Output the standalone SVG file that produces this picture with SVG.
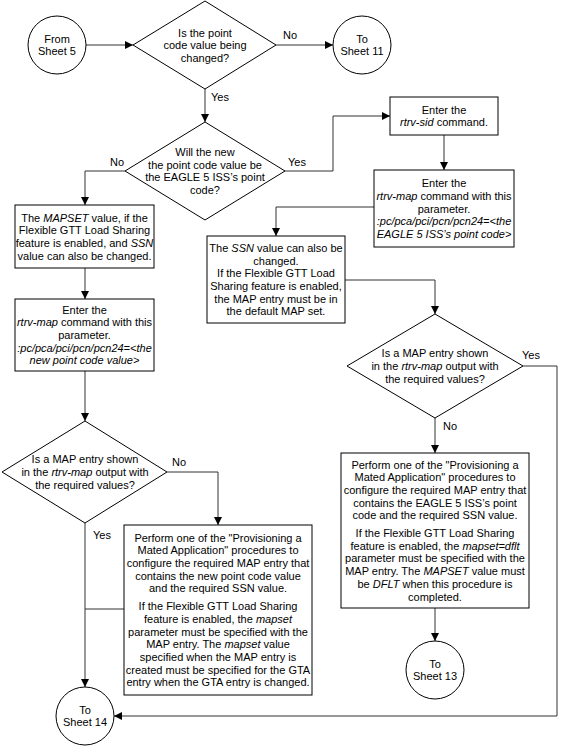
<svg xmlns="http://www.w3.org/2000/svg" width="565" height="746" viewBox="0 0 565 746">
<defs>
<marker id="arr" viewBox="0 0 10 10" refX="10" refY="5" markerWidth="8" markerHeight="8" markerUnits="userSpaceOnUse" orient="auto">
<path d="M0,0 L10,5 L0,10 z" fill="#000"/>
</marker>
<style>
.n{fill:#fff;stroke:#000;stroke-width:1}
.t{font-family:"Liberation Sans",Arial,sans-serif;font-size:11px;fill:#000;text-anchor:middle}
.l{font-family:"Liberation Sans",Arial,sans-serif;font-size:11px;fill:#000}
.c{fill:none;stroke:#333;stroke-width:1}
.a{marker-end:url(#arr)}
.i{font-style:italic}
</style>
</defs>
<rect width="565" height="746" fill="#fff"/>
<g id="connectors">
<path class="c a" d="M86,45 H133"/>
<path class="c a" d="M276,45 H333"/>
<path class="c a" d="M205,89 V122"/>
<path class="c a" d="M125,171 H85 V205"/>
<path class="c a" d="M285,171 H333 V116 H390"/>
<path class="c a" d="M444,135 V170"/>
<path class="c a" d="M374,207 H276 V236"/>
<path class="c a" d="M85,268 V299"/>
<path class="c a" d="M345,280 H435 V314"/>
<path class="c a" d="M85,371 V421"/>
<path class="c a" d="M167,472 H218 V525"/>
<path class="c a" d="M85,523 V687"/>
<path class="c" d="M124,609 H85"/>
<path class="c a" d="M435,418 V453"/>
<path class="c a" d="M523,366 H557 V716 H114"/>
<path class="c a" d="M435,608 V641"/>
<text class="l" x="283" y="39">No</text>
<text class="l" x="211" y="101">Yes</text>
<text class="l" x="110" y="166">No</text>
<text class="l" x="288" y="166">Yes</text>
<text class="l" x="172" y="466">No</text>
<text class="l" x="93" y="539">Yes</text>
<text class="l" x="443" y="430">No</text>
<text class="l" x="522" y="359">Yes</text>
</g>
<g id="from5">
<circle class="n" cx="57" cy="45" r="29"/>
<text class="t" x="57" y="43">From</text>
<text class="t" x="57" y="55">Sheet 5</text>
</g>
<g id="d1">
<polygon class="n" points="133,45 205,1 276,45 205,89"/>
<text class="t" x="205" y="36.5">Is the point</text>
<text class="t" x="205" y="49">code value being</text>
<text class="t" x="205" y="61.5">changed?</text>
</g>
<g id="to11">
<circle class="n" cx="362" cy="45" r="29"/>
<text class="t" x="362" y="43">To</text>
<text class="t" x="362" y="55">Sheet 11</text>
</g>
<g id="d2">
<polygon class="n" points="125,171 205,122 285,171 205,220"/>
<text class="t" x="205" y="156">Will the new</text>
<text class="t" x="205" y="168.6">the point code value be</text>
<text class="t" x="205" y="181.3">the EAGLE 5 ISS’s point</text>
<text class="t" x="205" y="194">code?</text>
</g>
<g id="b1">
<rect class="n" x="15" y="205" width="139" height="63"/>
<text class="t" x="84.5" y="221.5">The <tspan class="i">MAPSET</tspan> value, if the</text>
<text class="t" x="84.5" y="234">Flexible GTT Load Sharing</text>
<text class="t" x="84.5" y="247">feature is enabled, and <tspan class="i">SSN</tspan></text>
<text class="t" x="84.5" y="259.5">value can also be changed.</text>
</g>
<g id="b3">
<rect class="n" x="15" y="299" width="139" height="72"/>
<text class="t" x="84.5" y="313.6">Enter the</text>
<text class="t" x="84.5" y="326.3"><tspan class="i">rtrv-map</tspan> command with this</text>
<text class="t" x="84.5" y="339">parameter.</text>
<text class="t i" x="84.5" y="351.7">:pc/pca/pci/pcn/pcn24=&lt;the</text>
<text class="t i" x="84.5" y="364.4">new point code value&gt;</text>
</g>
<g id="d3">
<polygon class="n" points="2,472 85,421 167,472 85,523"/>
<text class="t" x="85" y="463.4">Is a MAP entry shown</text>
<text class="t" x="85" y="476">in the <tspan class="i">rtrv-map</tspan> output with</text>
<text class="t" x="85" y="488.6">the required values?</text>
</g>
<g id="b5">
<rect class="n" x="124" y="525" width="188" height="170"/>
<text class="t" x="218" y="541.6">Perform one of the "Provisioning a</text>
<text class="t" x="218" y="554.3">Mated Application" procedures to</text>
<text class="t" x="218" y="567">configure the required MAP entry that</text>
<text class="t" x="218" y="579.7">contains the new point code value</text>
<text class="t" x="218" y="592.4">and the required SSN value.</text>
<text class="t" x="218" y="610.1">If the Flexible GTT Load Sharing</text>
<text class="t" x="218" y="622.8">feature is enabled, the <tspan class="i">mapset</tspan></text>
<text class="t" x="218" y="635.5">parameter must be specified with the</text>
<text class="t" x="218" y="648.2">MAP entry. The <tspan class="i">mapset</tspan> value</text>
<text class="t" x="218" y="660.9">specified when the MAP entry is</text>
<text class="t" x="218" y="673.6">created must be specified for the GTA</text>
<text class="t" x="218" y="686.3">entry when the GTA entry is changed.</text>
</g>
<g id="to14">
<circle class="n" cx="85" cy="716" r="29"/>
<text class="t" x="85" y="714">To</text>
<text class="t" x="85" y="726">Sheet 14</text>
</g>
<g id="sid">
<rect class="n" x="390" y="97" width="108" height="38"/>
<text class="t" x="444" y="113.6">Enter the</text>
<text class="t" x="444" y="126.3"><tspan class="i">rtrv-sid</tspan> command.</text>
</g>
<g id="mapR">
<rect class="n" x="374" y="170" width="140" height="77"/>
<text class="t" x="444" y="187.1">Enter the</text>
<text class="t" x="444" y="199.8"><tspan class="i">rtrv-map</tspan> command with this</text>
<text class="t" x="444" y="212.5">parameter.</text>
<text class="t i" x="444" y="225.2">:pc/pca/pci/pcn/pcn24=&lt;the</text>
<text class="t i" x="444" y="237.9">EAGLE 5 ISS’s point code&gt;</text>
</g>
<g id="b2">
<rect class="n" x="207" y="236" width="138" height="87"/>
<text class="t" x="276" y="251.8">The <tspan class="i">SSN</tspan> value can also be</text>
<text class="t" x="276" y="264.5">changed.</text>
<text class="t" x="276" y="277.2">If the Flexible GTT Load</text>
<text class="t" x="276" y="289.9">Sharing feature is enabled,</text>
<text class="t" x="276" y="302.6">the MAP entry must be in</text>
<text class="t" x="276" y="315.3">the default MAP set.</text>
</g>
<g id="d4">
<polygon class="n" points="347,366 435,314 523,366 435,418"/>
<text class="t" x="435" y="357.4">Is a MAP entry shown</text>
<text class="t" x="435" y="370">in the <tspan class="i">rtrv-map</tspan> output with</text>
<text class="t" x="435" y="382.6">the required values?</text>
</g>
<g id="b6">
<rect class="n" x="341" y="453" width="188" height="155"/>
<text class="t" x="435" y="468.5">Perform one of the "Provisioning a</text>
<text class="t" x="435" y="481.2">Mated Application" procedures to</text>
<text class="t" x="435" y="493.9">configure the required MAP entry that</text>
<text class="t" x="435" y="506.6">contains the EAGLE 5 ISS’s point</text>
<text class="t" x="435" y="519.3">code and the required SSN value.</text>
<text class="t" x="435" y="537">If the Flexible GTT Load Sharing</text>
<text class="t" x="435" y="549.7">feature is enabled, the <tspan class="i">mapset=dflt</tspan></text>
<text class="t" x="435" y="562.4">parameter must be specified with the</text>
<text class="t" x="435" y="575.1">MAP entry. The <tspan class="i">MAPSET</tspan> value must</text>
<text class="t" x="435" y="587.8">be <tspan class="i">DFLT</tspan> when this procedure is</text>
<text class="t" x="435" y="600.5">completed.</text>
</g>
<g id="to13">
<circle class="n" cx="435" cy="670" r="29"/>
<text class="t" x="435" y="668">To</text>
<text class="t" x="435" y="680">Sheet 13</text>
</g>
</svg>
